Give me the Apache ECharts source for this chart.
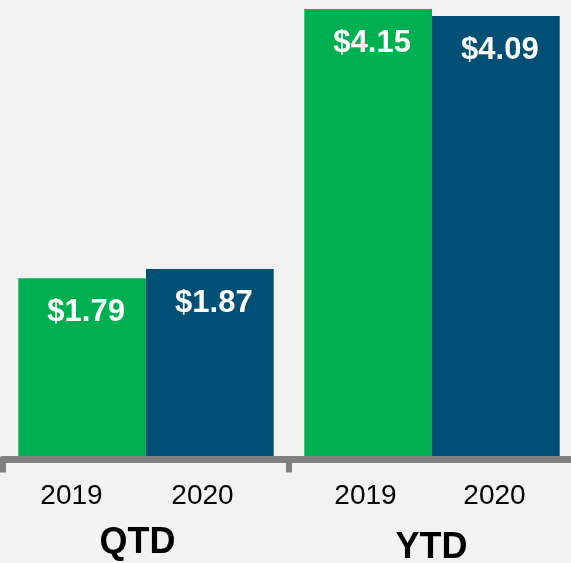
<!DOCTYPE html>
<html>
<head>
<meta charset="utf-8">
<script src="https://cdn.jsdelivr.net/npm/echarts@6/dist/echarts.min.js"></script>
<style>
  html, body { margin: 0; padding: 0; background: #f2f2f2; }
  #chart { width: 571px; height: 563px; }
</style>
</head>
<body>
<div id="chart"></div>
<script>
// data
const groups = ['QTD', 'YTD']
const years = ['2019', '2020']
const values2019 = [1.79, 4.15]
const values2020 = [1.87, 4.09]

// label layout under each group (px)
const yearGap = [61, 59]
const yearShift = [18, 4]
const groupShift = [17, 1]
const groupLine = [57, 67]

const chart = echarts.init(document.getElementById('chart'))

const rich = {
  y: { fontSize: 28, fontFamily: 'Arial', color: '#000', width: 70, align: 'center', lineHeight: 36 }
}
groups.forEach((g, i) => {
  rich['s' + i] = { fontSize: 10, width: yearGap[i], align: 'center', lineHeight: 10 }
  rich['e' + i] = { fontSize: 10, width: yearShift[i], align: 'center', lineHeight: 10 }
  rich['g' + i] = { fontSize: 36, fontWeight: 'bold', fontFamily: 'Arial', color: '#000', width: 80, align: 'center', lineHeight: groupLine[i] }
  rich['f' + i] = { fontSize: 10, width: groupShift[i], align: 'center', lineHeight: 10 }
})

const valueLabel = {
  show: true,
  position: ['50%', 34],
  align: 'center',
  verticalAlign: 'middle',
  offset: [4, 0],
  color: '#fff',
  fontSize: 31,
  fontWeight: 'bold',
  fontFamily: 'Arial',
  formatter: p => '$' + p.value.toFixed(2)
}

const option = {
  backgroundColor: '#f2f2f2',
  animation: false,
  grid: {
    left: 3,
    right: -4,
    top: 0,
    bottom: 103.5,
    containLabel: false,
    outerBoundsMode: 'none'
  },
  xAxis: {
    type: 'category',
    data: groups,
    z: 10,
    axisLine: { lineStyle: { color: '#808080', width: 7 } },
    axisTick: { show: true, length: 13, lineStyle: { color: '#808080', width: 6 } },
    axisLabel: {
      interval: 0,
      margin: 19,
      hideOverlap: false,
      formatter: (value, index) =>
        `{y|${years[0]}}{s${index}| }{y|${years[1]}}{e${index}| }\n{g${index}|${value}}{f${index}| }`,
      rich: rich
    }
  },
  yAxis: {
    type: 'value',
    show: false,
    min: 0.2,
    max: 4.23,
    splitLine: { show: false }
  },
  series: [
    {
      name: years[0],
      type: 'bar',
      data: values2019,
      barWidth: 127.7,
      barGap: 0,
      itemStyle: { color: '#00b050' },
      label: valueLabel
    },
    {
      name: years[1],
      type: 'bar',
      data: values2020,
      barWidth: 127.7,
      barGap: 0,
      itemStyle: { color: '#004f74' },
      label: valueLabel
    }
  ]
}

chart.setOption(option)
</script>
</body>
</html>
